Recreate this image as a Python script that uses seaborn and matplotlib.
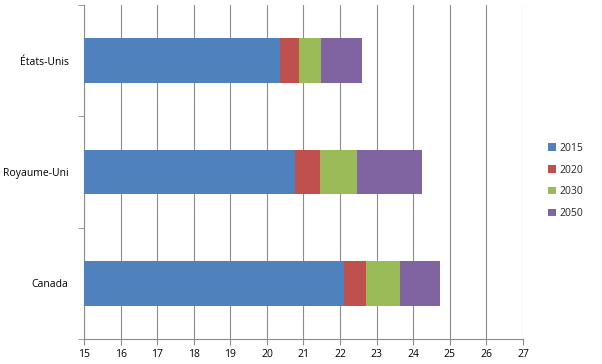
import pandas as pd
import numpy as np
import matplotlib
matplotlib.use("Agg")
import matplotlib.pyplot as plt
import seaborn as sns
from matplotlib.patches import Patch

# data (segment lengths, stacked left to right)
pays = ['États-Unis', 'Royaume-Uni', 'Canada']
annees = ['2015', '2020', '2030', '2050']
v2015 = [20.37, 20.76, 22.10]
v2020 = [0.50, 0.70, 0.60]
v2030 = [0.62, 1.00, 0.93]
v2050 = [1.11, 1.79, 1.09]
couleurs = ['#4F81BD', '#C0504D', '#9BBB59', '#8064A2']

sns.set_style('white')
plt.rcParams['font.family'] = ['Open Sans', 'DejaVu Sans']

df = pd.DataFrame({'pays': pays, '2015': v2015, '2020': v2020, '2030': v2030, '2050': v2050})
cum = df[annees].cumsum(axis=1)
cum['pays'] = df['pays']

fig = plt.figure(figsize=(6.02, 3.64), dpi=100)
ax = fig.add_axes([84 / 602, 25 / 364, 439 / 602, 334 / 364])

# draw cumulative totals, largest first, so each stack shows its segments
for an, c in reversed(list(zip(annees, couleurs))):
    sns.barplot(data=cum, y='pays', x=an, orient='h', color=c, width=0.4,
                saturation=1, ax=ax, zorder=3, linewidth=0)

ax.set_xlim(15, 27)
ax.set_ylim(2.5, -0.5)
ax.set_xticks(np.arange(15, 28, 1))
ax.set_xlabel('')
ax.set_ylabel('')
ax.grid(axis='x', color='#8c8c8c', linewidth=0.8, zorder=0)
ax.set_axisbelow(True)

for s in ['top', 'right']:
    ax.spines[s].set_visible(False)
for s in ['left', 'bottom']:
    ax.spines[s].set_color('#8c8c8c')
    ax.spines[s].set_linewidth(0.8)

ax.tick_params(axis='x', direction='out', length=4, color='#8c8c8c', labelsize=7.5,
               labelcolor='black', pad=3, bottom=True)
ax.tick_params(axis='y', which='major', length=0, labelsize=7.5, labelcolor='black', pad=11)
ax.set_yticks([-0.5, 0.5, 1.5, 2.5], minor=True)
ax.tick_params(axis='y', which='minor', direction='out', length=4, color='#8c8c8c', left=True)

handles = [Patch(facecolor=c, edgecolor='none', label=a) for a, c in zip(annees, couleurs)]
fig.legend(handles=handles, loc='center left', bbox_to_anchor=(539 / 602, 1 - 181 / 364),
           frameon=False, fontsize=7.5, handlelength=0.7, handleheight=0.7,
           handletextpad=0.4, labelspacing=1.05)

plt.savefig('out.png', dpi=100)
